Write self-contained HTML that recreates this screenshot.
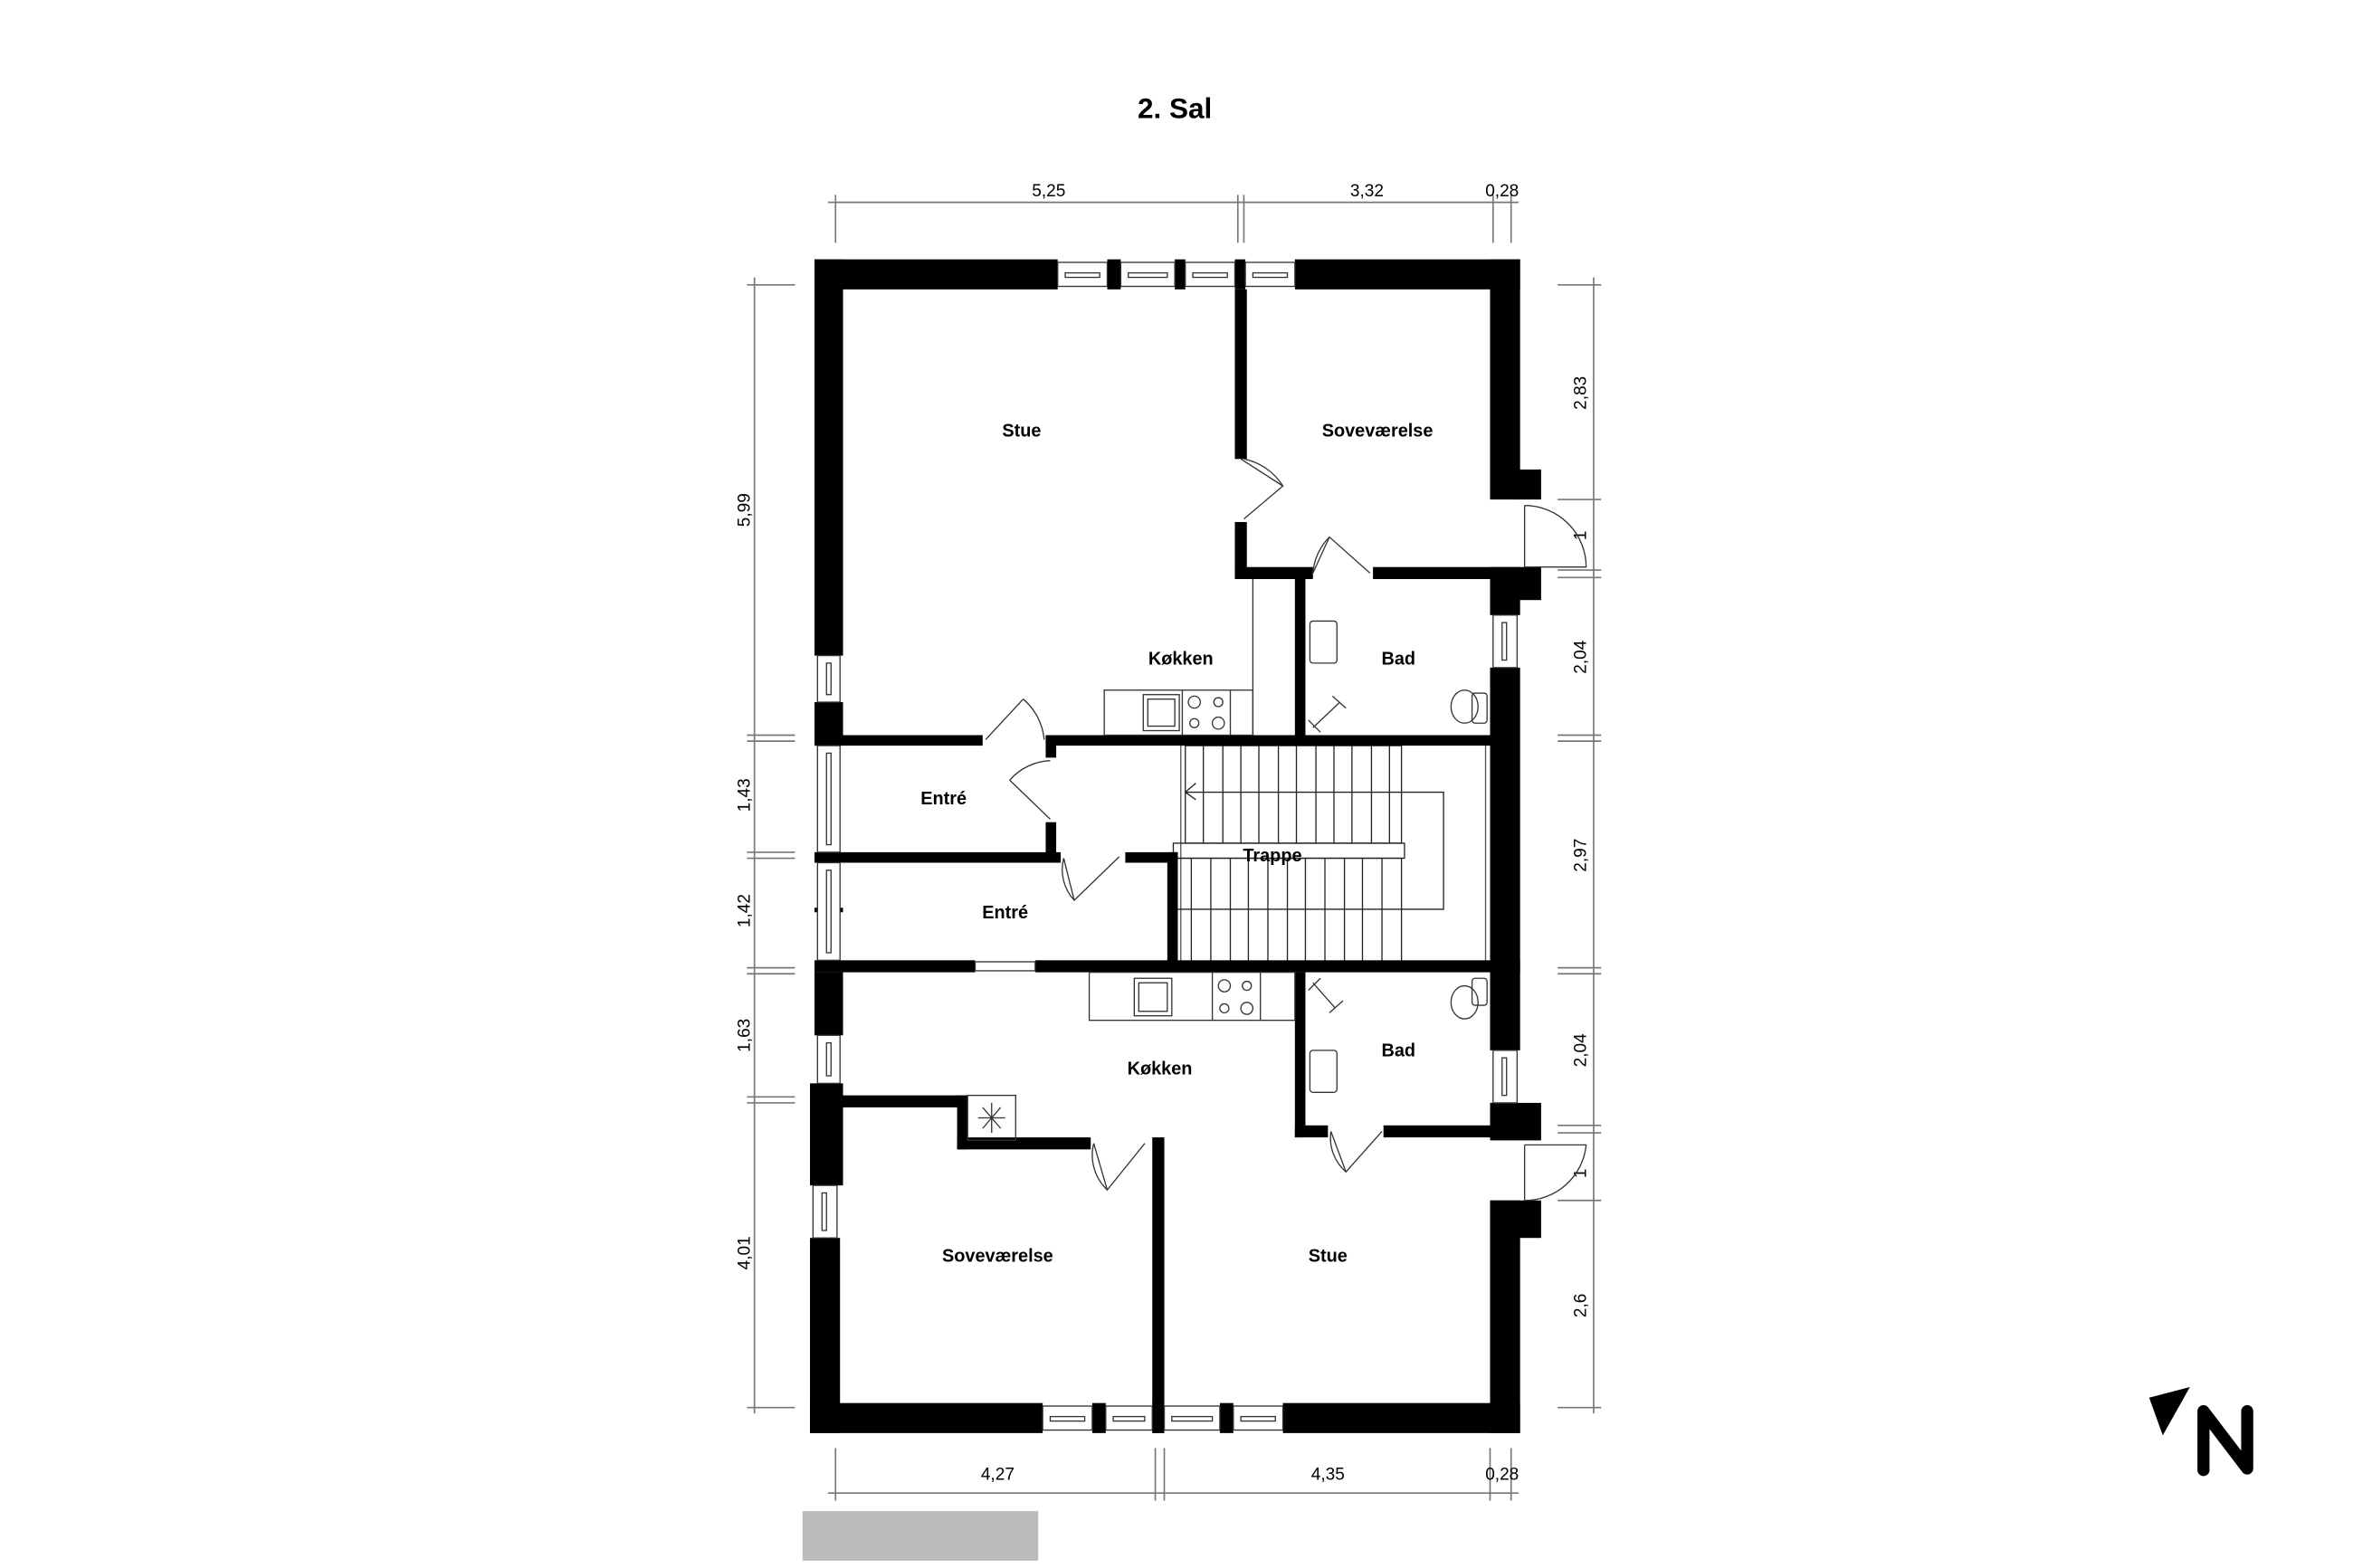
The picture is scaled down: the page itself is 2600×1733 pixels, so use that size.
<!DOCTYPE html>
<html><head><meta charset="utf-8"><style>
html,body{margin:0;padding:0;background:#fff;}
svg{display:block;}
text{font-family:"Liberation Sans",sans-serif;font-weight:bold;fill:#000;}
</style></head><body>
<svg width="2600" height="1733" viewBox="0 0 1560 1040" xmlns="http://www.w3.org/2000/svg">
<rect width="1560" height="1040" fill="#fff"/>
<g transform="translate(-0.6,-0.2) scale(0.9955)">
<text x="783" y="79" font-size="19" text-anchor="middle">2. Sal</text>

<g stroke="#777" stroke-width="1" fill="none">
<line x1="552" y1="135" x2="1012" y2="135"/>
<line x1="557" y1="130" x2="557" y2="162"/><line x1="825" y1="130" x2="825" y2="162"/><line x1="829" y1="130" x2="829" y2="162"/><line x1="995" y1="130" x2="995" y2="162"/><line x1="1007" y1="130" x2="1007" y2="162"/>
<line x1="552" y1="995" x2="1012" y2="995"/>
<line x1="557" y1="965" x2="557" y2="1000"/><line x1="770" y1="965" x2="770" y2="1000"/><line x1="776" y1="965" x2="776" y2="1000"/><line x1="993" y1="965" x2="993" y2="1000"/><line x1="1007" y1="965" x2="1007" y2="1000"/>
<line x1="503" y1="185" x2="503" y2="942"/>
<line x1="498" y1="190" x2="530" y2="190"/><line x1="498" y1="490" x2="530" y2="490"/><line x1="498" y1="494" x2="530" y2="494"/><line x1="498" y1="568" x2="530" y2="568"/><line x1="498" y1="572" x2="530" y2="572"/><line x1="498" y1="645" x2="530" y2="645"/><line x1="498" y1="649" x2="530" y2="649"/><line x1="498" y1="731" x2="530" y2="731"/><line x1="498" y1="735" x2="530" y2="735"/><line x1="498" y1="938" x2="530" y2="938"/>
<line x1="1062" y1="185" x2="1062" y2="942"/>
<line x1="1038" y1="190" x2="1067" y2="190"/><line x1="1038" y1="333" x2="1067" y2="333"/><line x1="1038" y1="380" x2="1067" y2="380"/><line x1="1038" y1="385" x2="1067" y2="385"/><line x1="1038" y1="490" x2="1067" y2="490"/><line x1="1038" y1="494" x2="1067" y2="494"/><line x1="1038" y1="645" x2="1067" y2="645"/><line x1="1038" y1="649" x2="1067" y2="649"/><line x1="1038" y1="750" x2="1067" y2="750"/><line x1="1038" y1="755" x2="1067" y2="755"/><line x1="1038" y1="800" x2="1067" y2="800"/><line x1="1038" y1="938" x2="1067" y2="938"/>
</g>
<g font-size="11.5">
<text x="699" y="131" text-anchor="middle" style="font-weight:normal">5,25</text>
<text x="911" y="131" text-anchor="middle" style="font-weight:normal">3,32</text>
<text x="1001" y="131" text-anchor="middle" style="font-weight:normal">0,28</text>
<text x="665" y="986" text-anchor="middle" style="font-weight:normal">4,27</text>
<text x="885" y="986" text-anchor="middle" style="font-weight:normal">4,35</text>
<text x="1001" y="986" text-anchor="middle" style="font-weight:normal">0,28</text>
<text transform="translate(500,340) rotate(-90)" text-anchor="middle" style="font-weight:normal">5,99</text>
<text transform="translate(500,530) rotate(-90)" text-anchor="middle" style="font-weight:normal">1,43</text>
<text transform="translate(500,607) rotate(-90)" text-anchor="middle" style="font-weight:normal">1,42</text>
<text transform="translate(500,690) rotate(-90)" text-anchor="middle" style="font-weight:normal">1,63</text>
<text transform="translate(500,835) rotate(-90)" text-anchor="middle" style="font-weight:normal">4,01</text>
<text transform="translate(1057,262) rotate(-90)" text-anchor="middle" style="font-weight:normal">2,83</text>
<text transform="translate(1057,357) rotate(-90)" text-anchor="middle" style="font-weight:normal">1</text>
<text transform="translate(1057,438) rotate(-90)" text-anchor="middle" style="font-weight:normal">2,04</text>
<text transform="translate(1057,570) rotate(-90)" text-anchor="middle" style="font-weight:normal">2,97</text>
<text transform="translate(1057,700) rotate(-90)" text-anchor="middle" style="font-weight:normal">2,04</text>
<text transform="translate(1057,782) rotate(-90)" text-anchor="middle" style="font-weight:normal">1</text>
<text transform="translate(1057,870) rotate(-90)" text-anchor="middle" style="font-weight:normal">2,6</text>
</g>

<g stroke="#222" stroke-width="0.8" fill="none">
<rect x="787" y="495" width="203" height="147" stroke="#555"/>
<rect x="790" y="497" width="144" height="65"/>
<rect x="782" y="572" width="152" height="69"/>
<rect x="782" y="562" width="154" height="10"/>
<polyline points="790,528 962,528 962,606 782,606"/>
<polyline points="797,522 790,528 797,533"/>
<line x1="802" y1="497" x2="802" y2="562"/><line x1="815" y1="497" x2="815" y2="562"/><line x1="827" y1="497" x2="827" y2="562"/><line x1="839" y1="497" x2="839" y2="562"/><line x1="852" y1="497" x2="852" y2="562"/><line x1="864" y1="497" x2="864" y2="562"/><line x1="877" y1="497" x2="877" y2="562"/><line x1="889" y1="497" x2="889" y2="562"/><line x1="901" y1="497" x2="901" y2="562"/><line x1="914" y1="497" x2="914" y2="562"/><line x1="926" y1="497" x2="926" y2="562"/>
<line x1="794" y1="572" x2="794" y2="641"/><line x1="807" y1="572" x2="807" y2="641"/><line x1="820" y1="572" x2="820" y2="641"/><line x1="832" y1="572" x2="832" y2="641"/><line x1="845" y1="572" x2="845" y2="641"/><line x1="858" y1="572" x2="858" y2="641"/><line x1="870" y1="572" x2="870" y2="641"/><line x1="883" y1="572" x2="883" y2="641"/><line x1="896" y1="572" x2="896" y2="641"/><line x1="908" y1="572" x2="908" y2="641"/><line x1="921" y1="572" x2="921" y2="641"/>
</g>

<g fill="#000">
<rect x="543" y="173" width="162" height="20"/>
<rect x="863" y="173" width="150" height="20"/>
<rect x="738" y="173" width="9" height="20"/><rect x="783" y="173" width="7" height="20"/><rect x="823" y="173" width="7" height="20"/>
<rect x="543" y="173" width="19" height="264"/>
<rect x="543" y="468" width="19" height="29"/>
<rect x="993" y="173" width="20" height="160"/>
<rect x="1008" y="313" width="19" height="20"/>
<rect x="823" y="193" width="8" height="113"/>
<rect x="823" y="348" width="8" height="38"/>
<rect x="823" y="378" width="52" height="8"/>
<rect x="915" y="378" width="93" height="8"/>
<rect x="1008" y="378" width="19" height="22"/>
<rect x="993" y="378" width="20" height="32"/>
<rect x="993" y="445" width="20" height="255"/>
<rect x="863" y="386" width="7" height="104"/>
<rect x="543" y="490" width="112" height="7"/>
<rect x="697" y="490" width="296" height="7"/>
<rect x="697" y="490" width="7" height="15"/>
<rect x="697" y="548" width="7" height="27"/>
<rect x="543" y="568" width="164" height="7"/>
<rect x="750" y="568" width="35" height="7"/>
<rect x="778" y="568" width="7" height="77"/>
<rect x="543" y="605" width="19" height="3"/>
<rect x="543" y="640" width="107" height="8"/>
<rect x="690" y="640" width="323" height="8"/>
<rect x="543" y="648" width="19" height="42"/>
<rect x="540" y="722" width="22" height="68"/>
<rect x="540" y="825" width="20" height="130"/>
<rect x="560" y="730" width="85" height="8"/>
<rect x="638" y="730" width="7" height="36"/>
<rect x="638" y="758" width="89" height="8"/>
<rect x="768" y="758" width="8" height="197"/>
<rect x="863" y="648" width="7" height="110"/>
<rect x="863" y="750" width="22" height="8"/>
<rect x="922" y="750" width="78" height="8"/>
<rect x="993" y="735" width="34" height="25"/>
<rect x="993" y="800" width="34" height="25"/>
<rect x="993" y="800" width="20" height="155"/>
<rect x="540" y="935" width="155" height="20"/>
<rect x="855" y="935" width="158" height="20"/>
<rect x="728" y="935" width="9" height="20"/><rect x="768" y="935" width="8" height="20"/><rect x="813" y="935" width="9" height="20"/>
</g>

<g stroke="#333" stroke-width="0.8" fill="#fff">
<rect x="705" y="175" width="33" height="16"/><rect x="710" y="182" width="23" height="3"/>
<rect x="747" y="175" width="36" height="16"/><rect x="752" y="182" width="26" height="3"/>
<rect x="790" y="175" width="33" height="16"/><rect x="795" y="182" width="23" height="3"/>
<rect x="830" y="175" width="33" height="16"/><rect x="835" y="182" width="23" height="3"/>
<rect x="545" y="437" width="15" height="31"/><rect x="551" y="442" width="3" height="21"/>
<rect x="545" y="497" width="15" height="71"/><rect x="551" y="502" width="3" height="61"/>
<rect x="545" y="575" width="15" height="65"/><rect x="551" y="580" width="3" height="55"/>
<rect x="545" y="690" width="15" height="32"/><rect x="551" y="695" width="3" height="22"/>
<rect x="542" y="790" width="16" height="35"/><rect x="548" y="795" width="3" height="25"/>
<rect x="995" y="410" width="16" height="35"/><rect x="1001" y="415" width="3" height="25"/>
<rect x="995" y="700" width="16" height="35"/><rect x="1001" y="705" width="3" height="25"/>
<rect x="650" y="641" width="40" height="6"/>
<rect x="695" y="937" width="33" height="16"/><rect x="700" y="944" width="23" height="3"/>
<rect x="737" y="937" width="31" height="16"/><rect x="742" y="944" width="21" height="3"/>
<rect x="776" y="937" width="37" height="16"/><rect x="781" y="944" width="27" height="3"/>
<rect x="822" y="937" width="33" height="16"/><rect x="827" y="944" width="23" height="3"/>
</g>

<g stroke="#333" stroke-width="0.8" fill="none">
<path d="M827,306 L855,324 L829,346"/><path d="M829,306 A40,40 0 0 1 855,324"/>
<path d="M875,382 L886,358 L913,382 M875,382 A38,38 0 0 1 886,358"/>
<path d="M1016,337 L1016,378 M1016,337 A41,41 0 0 1 1057,378 L1016,378"/>
<path d="M657,493 L682,466 M682,466 A40,40 0 0 1 696,493"/>
<path d="M700,546 L673,520 M673,520 A38,38 0 0 1 700,507"/>
<path d="M709,572 L716,600 L746,571 M709,572 A30,30 0 0 0 716,600"/>
<path d="M729,762 L738,793 L763,762 M729,762 A32,32 0 0 0 738,793"/>
<path d="M887,754 L897,781 L921,754 M887,754 A30,30 0 0 0 897,781"/>
<path d="M1016,763 L1016,800 M1016,763 L1057,763 A41,41 0 0 1 1016,800"/>
</g>

<g stroke="#333" stroke-width="0.8" fill="none">
<rect x="736" y="460" width="99" height="30"/>
<line x1="835" y1="386" x2="835" y2="490"/>
<line x1="788" y1="460" x2="788" y2="490"/><line x1="820" y1="460" x2="820" y2="490"/>
<rect x="762" y="463" width="24" height="24"/><rect x="765" y="466" width="18" height="18"/>
<circle cx="796" cy="468" r="4"/><circle cx="812" cy="468" r="3"/><circle cx="796" cy="482" r="3"/><circle cx="812" cy="482" r="4"/>
<rect x="726" y="648" width="137" height="32"/>
<line x1="808" y1="648" x2="808" y2="680"/><line x1="840" y1="648" x2="840" y2="680"/>
<rect x="756" y="652" width="25" height="25"/><rect x="759" y="655" width="19" height="19"/>
<circle cx="816" cy="657" r="4"/><circle cx="831" cy="657" r="3"/><circle cx="816" cy="672" r="3"/><circle cx="831" cy="672" r="4"/>
<rect x="873" y="414" width="18" height="28" rx="2"/>
<rect x="873" y="700" width="18" height="28" rx="2"/>
<ellipse cx="976" cy="471" rx="9" ry="11"/><rect x="981" y="462" width="10" height="20" rx="2"/>
<ellipse cx="976" cy="668" rx="9" ry="11"/><rect x="981" y="652" width="10" height="18" rx="2"/>
<path d="M875,485 L893,468 M888,464 L897,472 M872,480 L880,488"/>
<path d="M875,655 L890,672 M886,675 L895,667 M872,660 L880,652"/>
<rect x="645" y="730" width="32" height="30"/>
<path d="M661,735 V755 M652,745 H670 M655,738 L667,752 M667,738 L655,752"/>
</g>

<g font-size="12" text-anchor="middle">
<text x="681" y="291">Stue</text>
<text x="918" y="291">Soveværelse</text>
<text x="787" y="443">Køkken</text>
<text x="932" y="443">Bad</text>
<text x="629" y="536">Entré</text>
<text x="848" y="574">Trappe</text>
<text x="670" y="612">Entré</text>
<text x="773" y="716">Køkken</text>
<text x="932" y="704">Bad</text>
<text x="665" y="841">Soveværelse</text>
<text x="885" y="841">Stue</text>
</g>

<rect x="535" y="1007" width="157" height="33" fill="#bbb"/>
</g>

<polygon points="1425,927 1452,920 1434,952" fill="#000"/>
<polyline points="1461,975 1461,936 1490,974 1490,936" fill="none" stroke="#000" stroke-width="8" stroke-linecap="round" stroke-linejoin="round"/>
</svg>
</body></html>
